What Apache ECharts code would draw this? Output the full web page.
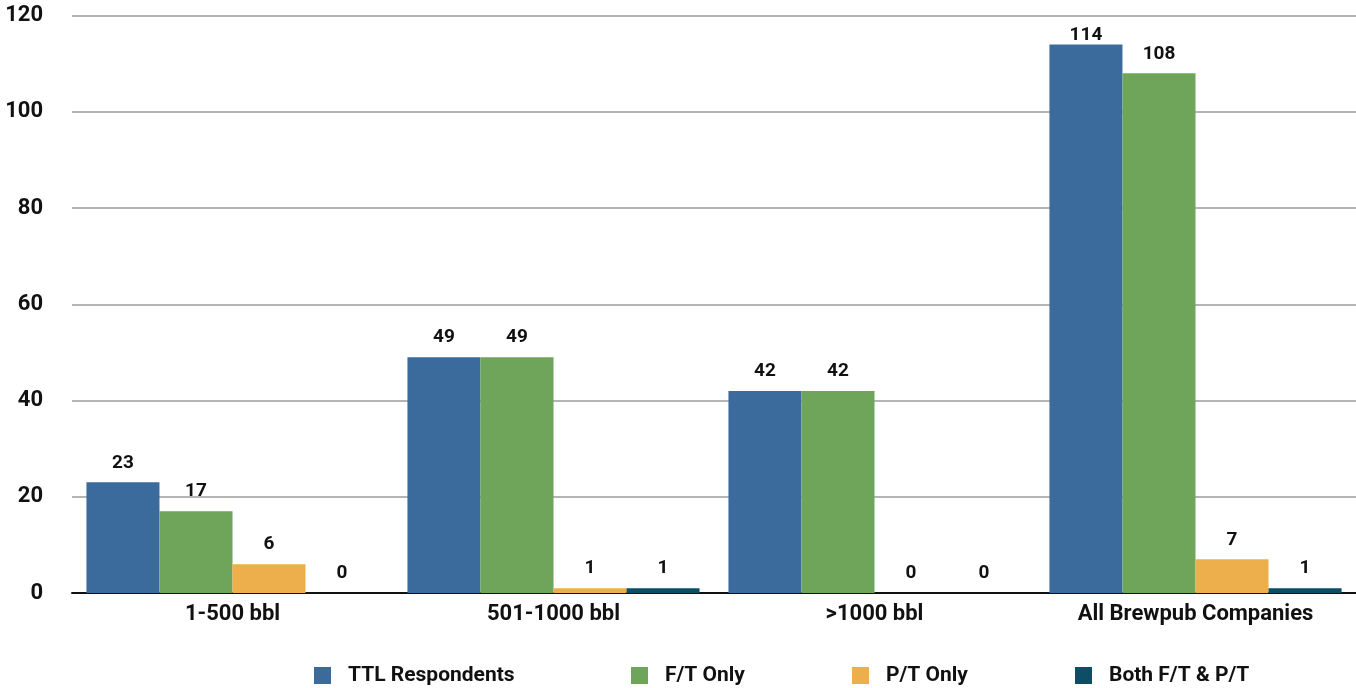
<!DOCTYPE html>
<html><head><meta charset="utf-8">
<script src="https://cdn.jsdelivr.net/npm/echarts@6/dist/echarts.min.js"></script>
<style>html,body{margin:0;padding:0;background:#fff}#c{width:1356px;height:688px}</style>
</head><body><div id="c"></div>
<script>
const categories = ['1-500 bbl', '501-1000 bbl', '>1000 bbl', 'All Brewpub Companies'];
const ttlRespondents = [23, 49, 42, 114];
const ftOnly = [17, 49, 42, 108];
const ptOnly = [6, 1, 0, 7];
const bothFtPt = [0, 1, 0, 1];
const seriesNames = ['TTL Respondents', 'F/T Only', 'P/T Only', 'Both F/T & P/T'];
const colors = ['#3B6B9C', '#6EA55A', '#EDAF4C', '#0C4E66'];
const yTicks = { min: 0, max: 120, interval: 20 };

const font = "Roboto, sans-serif";
const legendLefts = [309, 626, 847, 1070];
const chart = echarts.init(document.getElementById('c'));
const dataSets = [ttlRespondents, ftOnly, ptOnly, bothFtPt];
chart.setOption({
  animation: false,
  color: colors,
  grid: { left: 72, right: -2, top: 15.5, bottom: 95, containLabel: false },
  legend: seriesNames.map((n, i) => ({
    data: [n],
    left: legendLefts[i], top: 660,
    icon: 'rect', itemWidth: 17, itemHeight: 17,
    textStyle: { fontFamily: font, fontWeight: 'bold', fontSize: 21, color: '#111', padding: [0, 0, 0, 12] }
  })),
  xAxis: {
    type: 'category', data: categories,
    axisLine: { lineStyle: { color: '#111', width: 2 } },
    axisTick: { show: false },
    axisLabel: { interval: 0, fontFamily: font, fontWeight: 'bold', fontSize: 22, color: '#111', margin: 10 }
  },
  yAxis: {
    type: 'value', min: yTicks.min, max: yTicks.max, interval: yTicks.interval,
    axisLine: { show: false }, axisTick: { show: false },
    splitLine: { lineStyle: { color: '#b4b4b4', width: 2 } },
    axisLabel: { fontFamily: font, fontWeight: 'bold', fontSize: 22, color: '#111', margin: 29 }
  },
  series: dataSets.map((d, i) => ({
    name: seriesNames[i], type: 'bar',
    data: d.map(v => v > yTicks.max - 10 ? { value: v, label: { distance: 0 } } : v),
    barGap: '0%', barCategoryGap: '9%',
    label: { show: true, position: 'top', distance: 10, fontFamily: font, fontWeight: 'bold', fontSize: 19, color: '#111' }
  }))
});
</script></body></html>
